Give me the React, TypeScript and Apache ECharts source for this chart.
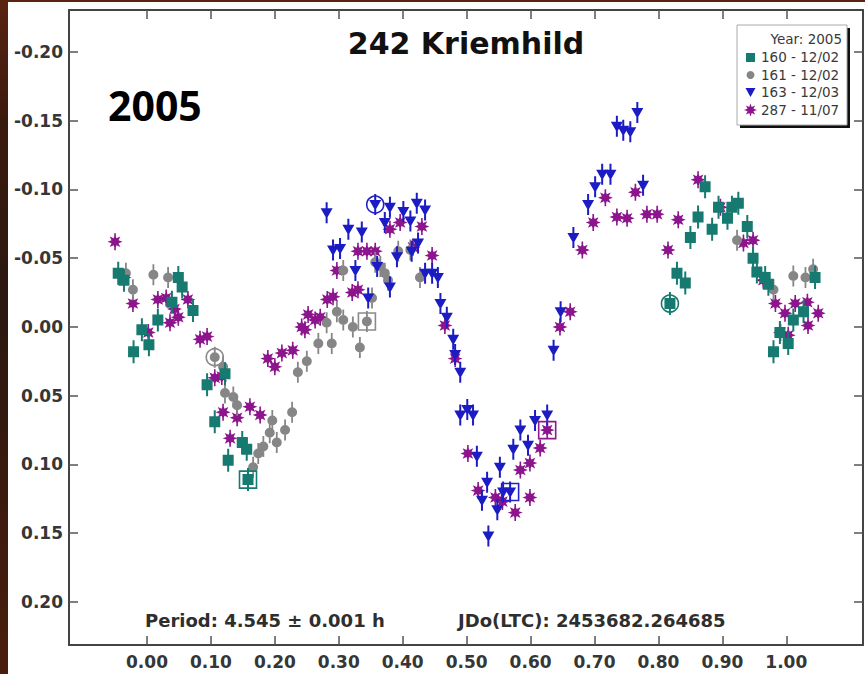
import React, { useEffect, useRef } from "react";
import * as echarts from "echarts";

// Rotation phase tick marks and magnitude tick marks
const phaseTicks = [0, 0.1, 0.2, 0.3, 0.4, 0.5, 0.6, 0.7, 0.8, 0.9, 1.0];
const magTicks = [-0.2, -0.15, -0.1, -0.05, 0, 0.05, 0.1, 0.15, 0.2];

// Session 160 - 12/02  [phase, Δmag]
const s160: number[][] = [
  [-0.045, -0.039], [-0.036, -0.034], [-0.021, 0.018], [-0.008, 0.002], [0.003, 0.013],
  [0.017, -0.005], [0.039, -0.018], [0.049, -0.036], [0.055, -0.029], [0.072, -0.012],
  [0.094, 0.042], [0.106, 0.069], [0.122, 0.034], [0.127, 0.097], [0.149, 0.084],
  [0.156, 0.089], [0.158, 0.111],
  [0.818, -0.017], [0.829, -0.039], [0.842, -0.032], [0.850, -0.065], [0.862, -0.080],
  [0.873, -0.102], [0.884, -0.071], [0.894, -0.087], [0.908, -0.079], [0.915, -0.087],
  [0.925, -0.090], [0.939, -0.073], [0.948, -0.050], [0.954, -0.040], [0.967, -0.036],
  [0.972, -0.031], [0.980, 0.018], [0.990, 0.004], [1.003, 0.012], [1.011, -0.005],
  [1.027, -0.011], [1.045, -0.036],
];

// Session 161 - 12/02
const s161: number[][] = [
  [-0.033, -0.039], [-0.022, -0.027], [0.010, -0.038], [0.033, -0.036], [0.106, 0.022],
  [0.119, 0.029], [0.122, 0.048], [0.135, 0.051], [0.141, 0.057], [0.166, 0.102],
  [0.174, 0.092], [0.182, 0.087], [0.192, 0.077], [0.196, 0.068], [0.203, 0.084],
  [0.216, 0.075], [0.227, 0.062], [0.236, 0.033], [0.250, 0.025], [0.268, 0.012],
  [0.289, 0.012], [0.333, 0.015], [0.281, -0.003], [0.297, -0.011], [0.307, -0.005],
  [0.322, 0.000], [0.344, -0.004], [0.352, -0.021], [0.307, -0.041], [0.357, -0.047],
  [0.365, -0.044], [0.372, -0.039], [0.377, -0.034], [0.393, -0.055], [0.412, -0.056],
  [0.427, -0.036], [0.923, -0.063], [0.980, -0.027], [1.011, -0.037], [1.030, -0.036],
  [1.042, -0.042],
];

// Session 163 - 12/03
const s163: number[][] = [
  [0.281, -0.083], [0.291, -0.056], [0.302, -0.057], [0.315, -0.071], [0.326, -0.041],
  [0.336, -0.069], [0.346, -0.021], [0.357, -0.089], [0.360, -0.044], [0.372, -0.076],
  [0.380, -0.087], [0.380, -0.029], [0.391, -0.051], [0.401, -0.084], [0.412, -0.077],
  [0.414, -0.055], [0.422, -0.090], [0.424, -0.061], [0.435, -0.085], [0.435, -0.039],
  [0.446, -0.039], [0.455, -0.036], [0.459, -0.017], [0.469, -0.007], [0.479, 0.009],
  [0.482, 0.020], [0.490, 0.033], [0.490, 0.064], [0.501, 0.060], [0.510, 0.064],
  [0.516, 0.094], [0.524, 0.126], [0.532, 0.113], [0.534, 0.152], [0.548, 0.133],
  [0.552, 0.102], [0.557, 0.120], [0.568, 0.120], [0.573, 0.089], [0.584, 0.075],
  [0.596, 0.086], [0.607, 0.068], [0.626, 0.064], [0.636, 0.017], [0.647, -0.011],
  [0.667, -0.065], [0.690, -0.089], [0.701, -0.102], [0.712, -0.111], [0.725, -0.111],
  [0.735, -0.146], [0.745, -0.143], [0.756, -0.142], [0.767, -0.156], [0.776, -0.103],
];

// Session 287 - 11/07
const s287: number[][] = [
  [-0.050, -0.062], [-0.036, -0.036], [-0.022, -0.017], [0.002, 0.004], [0.017, -0.020],
  [0.030, -0.021], [0.036, -0.003], [0.043, -0.013], [0.049, -0.007], [0.064, -0.020],
  [0.083, 0.009], [0.094, 0.007], [0.106, 0.037], [0.117, 0.036], [0.119, 0.062],
  [0.130, 0.081], [0.141, 0.066], [0.161, 0.058], [0.177, 0.064], [0.189, 0.023],
  [0.200, 0.029], [0.211, 0.019], [0.228, 0.017], [0.242, 0.000], [0.247, 0.002],
  [0.252, -0.009], [0.263, -0.005], [0.271, -0.007], [0.282, -0.020], [0.291, -0.022],
  [0.297, -0.041], [0.321, -0.025], [0.330, -0.027], [0.330, -0.055], [0.344, -0.055],
  [0.357, -0.055], [0.380, -0.071], [0.396, -0.076], [0.416, -0.058], [0.430, -0.073],
  [0.446, -0.052], [0.466, -0.001], [0.482, 0.023], [0.502, 0.092], [0.518, 0.119],
  [0.545, 0.124], [0.556, 0.127], [0.576, 0.135], [0.584, 0.104], [0.599, 0.099],
  [0.599, 0.124], [0.615, 0.088], [0.626, 0.075], [0.646, 0.000], [0.662, -0.011],
  [0.681, -0.056], [0.698, -0.076], [0.717, -0.094], [0.735, -0.080], [0.751, -0.079],
  [0.764, -0.098], [0.782, -0.082], [0.798, -0.082], [0.815, -0.056], [0.831, -0.078],
  [0.862, -0.107], [0.897, -0.087], [0.933, -0.061], [0.948, -0.063], [0.964, -0.034],
  [0.983, -0.017], [0.991, 0.004], [0.998, -0.010], [1.003, 0.006], [1.014, -0.017],
  [1.033, -0.018], [1.034, -0.001], [1.050, -0.010],
];

// Session start / end points, drawn as open outlines
const openSquares: [number, number, string][] = [
  [0.158, 0.111, "#177a70"],
  [0.344, -0.004, "#8a8a8a"],
  [0.568, 0.120, "#2222cc"],
  [0.626, 0.075, "#8e1a8e"],
];
const openCircles: [number, number, string][] = [
  [0.106, 0.022, "#8a8a8a"],
  [0.357, -0.089, "#2222cc"],
  [0.818, -0.017, "#177a70"],
];

const TEAL = "#177a70";
const GREY = "#868686";
const BLUE = "#1c1cc4";
const PURPLE = "#8c148c";
const FONT = "DejaVu Sans";

function starPoints(cx: number, cy: number, rOut: number, rIn: number, n: number): number[][] {
  const pts: number[][] = [];
  for (let k = 0; k < 2 * n; k++) {
    const a = -Math.PI / 2 + (k * Math.PI) / n;
    const r = k % 2 === 0 ? rOut : rIn;
    pts.push([cx + r * Math.cos(a), cy + r * Math.sin(a)]);
  }
  return pts;
}

function bar(half: number, w: number): string {
  return ` M${-w},${-half} L${w},${-half} L${w},${half} L${-w},${half} Z`;
}

const squareSym = "path://M-5.5,-5.5 L5.5,-5.5 L5.5,5.5 L-5.5,5.5 Z" + bar(11.5, 1);
const circleSym = "path://M-5,0 A5,5 0 1,1 5,0 A5,5 0 1,1 -5,0 Z" + bar(10.5, 0.9);
const triSym = "path://M-6,-4.5 L6,-4.5 L0,6 Z" + bar(10.5, 1);
const starSym =
  "path://" +
  starPoints(0, 0, 7.5, 3.8, 8)
    .map((p, i) => (i === 0 ? "M" : "L") + p[0].toFixed(2) + "," + p[1].toFixed(2))
    .join(" ") +
  " Z" +
  bar(8.5, 0.8);

const fmt = (v: number) => v.toFixed(2);

export default function App() {
  const ref = useRef<HTMLDivElement>(null);

  useEffect(() => {
    if (!ref.current) return;
    const chart = echarts.init(ref.current, undefined, { renderer: "svg" });

    const axisLine = { show: true, onZero: false, lineStyle: { color: "#444", width: 2 } };
    const tickStyle = { color: "#555", width: 1.5 };
    const labelStyle = {
      color: "#363636",
      fontFamily: FONT,
      fontWeight: "bold" as const,
      fontSize: 17,
    };

    const xBase = {
      type: "value" as const,
      min: -0.122,
      max: 1.12,
      axisLine,
      splitLine: { show: false },
      axisTick: { show: true, inside: true, length: 9, customValues: phaseTicks, lineStyle: tickStyle },
    };
    const yBase = {
      type: "value" as const,
      inverse: true,
      min: -0.2305,
      max: 0.2313,
      axisLine,
      splitLine: { show: false },
      axisTick: { show: true, inside: true, length: 9, customValues: magTicks, lineStyle: tickStyle },
    };

    const legendX = 737;
    const legendY = 25;
    const legendRows = [
      { y: 57, label: "160 - 12/02" },
      { y: 75, label: "161 - 12/02" },
      { y: 92, label: "163 - 12/03" },
      { y: 110, label: "287 - 11/07" },
    ];
    const legendText = (x: number, y: number, text: string, align: string) => ({
      type: "text",
      x,
      y,
      z: 102,
      style: {
        text,
        fill: "#3a3a3a",
        fontFamily: FONT,
        fontSize: 13.5,
        textAlign: align,
        textVerticalAlign: "middle",
      },
    });

    chart.setOption({
      animation: false,
      backgroundColor: "transparent",
      grid: { left: 69, right: 2, top: 10, bottom: 29, containLabel: false, outerBoundsMode: "none" },
      xAxis: [
        {
          ...xBase,
          position: "bottom",
          axisLabel: { ...labelStyle, customValues: phaseTicks, formatter: fmt, margin: 8 },
        },
        { ...xBase, position: "top", axisLabel: { show: false } },
      ],
      yAxis: [
        {
          ...yBase,
          position: "left",
          axisLabel: { ...labelStyle, customValues: magTicks, formatter: fmt, margin: 6 },
        },
        { ...yBase, position: "right", axisLabel: { show: false } },
      ],
      series: [
        {
          name: "287 - 11/07",
          type: "scatter",
          data: s287,
          symbol: starSym,
          symbolSize: [15, 17],
          itemStyle: { color: PURPLE, opacity: 1 },
          z: 2,
        },
        {
          name: "161 - 12/02",
          type: "scatter",
          data: s161,
          symbol: circleSym,
          symbolSize: [10, 21],
          itemStyle: { color: GREY, opacity: 1 },
          z: 3,
        },
        {
          name: "160 - 12/02",
          type: "scatter",
          data: s160,
          symbol: squareSym,
          symbolSize: [11, 23],
          itemStyle: { color: TEAL, opacity: 1 },
          z: 4,
        },
        {
          name: "163 - 12/03",
          type: "scatter",
          data: s163,
          symbol: triSym,
          symbolSize: [12, 21],
          itemStyle: { color: BLUE, opacity: 1 },
          z: 5,
        },
        {
          name: "start-end squares",
          type: "scatter",
          data: openSquares.map((d) => ({
            value: [d[0], d[1]],
            itemStyle: { color: "rgba(0,0,0,0)", borderColor: d[2], borderWidth: 1.6, opacity: 1 },
          })),
          symbol: "rect",
          symbolSize: 17,
          z: 6,
        },
        {
          name: "start-end circles",
          type: "scatter",
          data: openCircles.map((d) => ({
            value: [d[0], d[1]],
            itemStyle: { color: "rgba(0,0,0,0)", borderColor: d[2], borderWidth: 1.6, opacity: 1 },
          })),
          symbol: "circle",
          symbolSize: 17,
          z: 6,
        },
      ],
      graphic: [
        {
          type: "text",
          x: 466,
          y: 43,
          style: {
            text: "242 Kriemhild",
            fill: "#111",
            fontFamily: FONT,
            fontWeight: "bold",
            fontSize: 30,
            textAlign: "center",
            textVerticalAlign: "middle",
          },
        },
        {
          type: "text",
          x: 108,
          y: 105,
          style: {
            text: "2005",
            fill: "#000",
            fontFamily: "Open Sans",
            fontWeight: "bold",
            fontSize: 41,
            textAlign: "left",
            textVerticalAlign: "middle",
          },
        },
        {
          type: "text",
          x: 145,
          y: 620,
          style: {
            text: "Period: 4.545 \u00b1 0.001 h",
            fill: "#2e2e2e",
            fontFamily: FONT,
            fontWeight: "bold",
            fontSize: 18,
            textAlign: "left",
            textVerticalAlign: "middle",
          },
        },
        {
          type: "text",
          x: 458,
          y: 620,
          style: {
            text: "JDo(LTC): 2453682.264685",
            fill: "#2e2e2e",
            fontFamily: FONT,
            fontWeight: "bold",
            fontSize: 18,
            textAlign: "left",
            textVerticalAlign: "middle",
          },
        },
        // legend box with its drop shadow
        {
          type: "rect",
          z: 100,
          shape: { x: legendX + 3, y: legendY + 3, width: 110, height: 100 },
          style: { fill: "#111" },
        },
        {
          type: "rect",
          z: 101,
          shape: { x: legendX, y: legendY, width: 110, height: 100 },
          style: { fill: "#fff", stroke: "#aaa", lineWidth: 1 },
        },
        legendText(842, 39, "Year: 2005", "right"),
        ...legendRows.map((r) => legendText(761, r.y, r.label, "left")),
        {
          type: "rect",
          z: 102,
          shape: { x: 746, y: 53, width: 9, height: 9 },
          style: { fill: TEAL },
        },
        {
          type: "circle",
          z: 102,
          shape: { cx: 750.5, cy: 75, r: 4 },
          style: { fill: GREY },
        },
        {
          type: "polygon",
          z: 102,
          shape: { points: [[745.5, 88], [755.5, 88], [750.5, 97]] },
          style: { fill: BLUE },
        },
        {
          type: "polygon",
          z: 102,
          shape: { points: starPoints(750.5, 110, 6.5, 3.2, 8) },
          style: { fill: PURPLE },
        },
      ],
    });

    return () => chart.dispose();
  }, []);

  return (
    <div
      style={{
        position: "fixed",
        left: 0,
        top: 0,
        width: 865,
        height: 674,
        background:
          "linear-gradient(180deg, #5a2410 0%, #3b1a0e 18%, #2a1811 45%, #3a1a0e 72%, #4a1d0c 100%)",
        overflow: "hidden",
      }}
    >
      <div
        style={{
          position: "absolute",
          left: 8,
          top: 2,
          right: 0,
          bottom: 0,
          background: "#fff",
        }}
      />
      <div ref={ref} style={{ position: "absolute", left: 0, top: 0, width: 865, height: 674 }} />
    </div>
  );
}
